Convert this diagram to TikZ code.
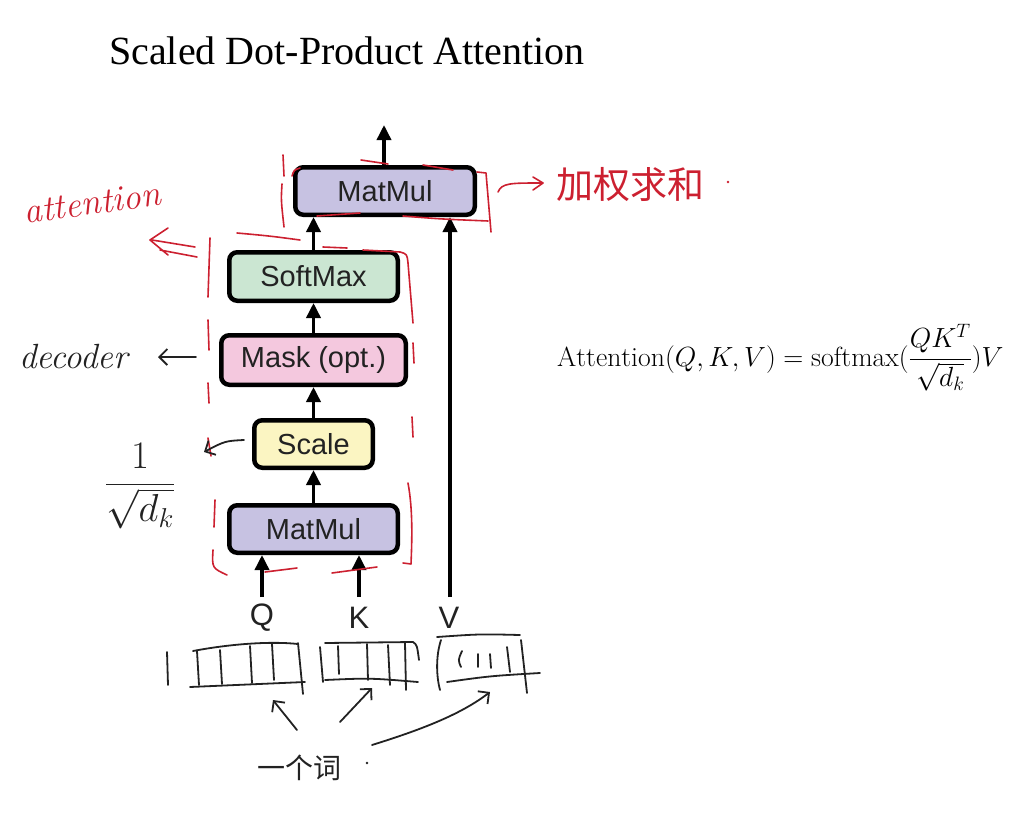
\RequirePackage{fix-cm}
\documentclass[tikz,border=0pt]{standalone}
\usepackage{fontspec}
\usepackage{amsmath}
\newfontfamily\timesf{Liberation Serif}
\newfontfamily\helv{Liberation Sans}
\newfontfamily\cjk{Noto Sans CJK SC}
\usetikzlibrary{arrows.meta}
\definecolor{hred}{HTML}{CC2030}
\definecolor{cmat}{HTML}{C7C2E2}
\definecolor{csoft}{HTML}{CBE6D2}
\definecolor{cmask}{HTML}{F4C8DE}
\definecolor{cscale}{HTML}{FBF5C2}
\definecolor{ink}{HTML}{222222}
\begin{document}
\begin{tikzpicture}[x=1pt,y=-1pt,
  box/.style={draw=black, line width=4.5pt, rounded corners=8pt, inner sep=0pt,
    font=\helv\fontsize{29}{30}\selectfont, text=ink},
  flow/.style={line width=3.5pt, -{Triangle[length=15pt,width=14pt]}},
  lbl/.style={font=\helv\fontsize{31}{32}\selectfont, text=ink, inner sep=0pt},
  redpen/.style={draw=hred, line width=1.6pt, line cap=round, line join=round},
  pen/.style={draw=ink, line width=1.8pt, line cap=round, line join=round},
  barb/.style={-{Straight Barb[length=8pt,width=16pt,line width=1.8pt]}},
]
\useasboundingbox (0,0) rectangle (1014,840);

% title
\node[anchor=base west, inner sep=0pt, font=\timesf\fontsize{40}{44}\selectfont] (title) at (109,65) {Scaled Dot-Product Attention};

% boxes
\node[box, fill=cmat,   minimum width=179.5pt, minimum height=47.5pt] (mm2)   at (385,191)   {MatMul};
\node[box, fill=csoft,  minimum width=168.5pt, minimum height=48.5pt] (sm)    at (313.5,276.5) {SoftMax};
\node[box, fill=cmask,  minimum width=184.5pt, minimum height=49.5pt] (mask)  at (313.5,360) {Mask (opt.)};
\node[box, fill=cscale, minimum width=118.5pt, minimum height=47.5pt] (scale) at (313.5,444) {Scale};
\node[box, fill=cmat,   minimum width=168.5pt, minimum height=47.5pt] (mm1)   at (313.5,529) {MatMul};

% labels
\node[lbl] (q) at (262,618) {Q};
\node[lbl] (k) at (359,618) {K};
\node[lbl] (v) at (449,618) {V};
\coordinate (qa) at (262,597);
\coordinate (ka) at (359,597);
\coordinate (va) at (450,597);
\coordinate (out) at (384,125);

% arrows
\draw[flow] (mm1.north) -- (scale.south);
\draw[flow] (scale.north) -- (mask.south);
\draw[flow] (mask.north) -- (sm.south);
\draw[flow] (sm.north) -- (sm.north |- mm2.south);
\draw[flow] (out |- mm2.north) -- (out);
\draw[flow] (qa) -- (qa |- mm1.south);
\draw[flow] (ka) -- (ka |- mm1.south);
\draw[flow] (va) -- (va |- mm2.south);

% formula
\node[anchor=base west, inner sep=0pt, font=\fontsize{27.7}{33}\selectfont] (eq) at (557,366)
  {$\mathrm{Attention}(Q,K,V)=\mathrm{softmax}(\dfrac{QK^T}{\sqrt{d_k}})V$};

% ---- red annotations ----
\node[rotate=8, text=hred, inner sep=0pt, font=\itshape\fontsize{36}{38}\selectfont] (att) at (92,203) {attention};
% double arrow
\draw[redpen] (195,247) -- (152,240);
\draw[redpen] (197,257) -- (160,250);
\draw[redpen] (168,228) -- (150,240) -- (168,255);
% top matmul frame
\draw[redpen] (283,155) -- (284,176);
\draw[redpen] (282,184) .. controls (281,200) .. (284,227);
\draw[redpen] (292,176) .. controls (294,170) .. (300,168);
\draw[redpen] (361,160) -- (388,164);
\draw[redpen] (423,165) -- (453,170);
\draw[redpen] (317,216) -- (360,213);
\draw[redpen] (403,216) .. controls (440,219) .. (488,221);
\draw[redpen] (477,172) -- (486,173) -- (491,232);
% arrow to weighted sum
\draw[redpen] (498,192) .. controls (502,183) and (510,183) .. (542,183);
\draw[redpen] (533,177) -- (543,183) -- (533,190);
\node[text=hred, inner sep=0pt, font=\cjk\fontsize{37}{39}\selectfont] (jq) at (630,185) {加权求和};
\fill[hred] (728,182) circle (1.4pt);
% inner group frame
\draw[redpen] (237,233) .. controls (270,236) .. (300,240);
\draw[redpen] (323,247) -- (347,248);
\draw[redpen] (363,250) -- (400,252) .. controls (407,254) .. (408,263) -- (413,323);
\draw[redpen] (210,238) -- (208,297);
\draw[redpen] (208,320) -- (209,350);
\draw[redpen] (208,383) -- (209,403);
\draw[redpen] (208,438) -- (211,456);
\draw[redpen] (413,343) -- (414,363);
\draw[redpen] (412,417) -- (413,437);
\draw[redpen] (408,483) .. controls (413,510) and (412,540) .. (411,564) -- (403,563);
\draw[redpen] (215,500) -- (214,527);
\draw[redpen] (213,550) .. controls (212,568) .. (227,575);
\draw[redpen] (265,572) -- (297,568);
\draw[redpen] (332,573) -- (377,567);

% ---- black annotations ----
\node[anchor=base west, inner sep=0pt, text=ink, font=\itshape\fontsize{35}{37}\selectfont] (dec) at (19,368) {decoder};
\draw[pen, barb] (196,357) -- (158,357);
\draw[pen, barb] (244,440) .. controls (225,441) .. (204,452);
\node[inner sep=0pt, text=ink, font=\fontsize{39}{44}\selectfont] (frac) at (140,486) {$\dfrac{1}{\sqrt{d_k}}$};

% vectors
\draw[pen] (167,652) -- (168,685);
\draw[pen] (193,651) .. controls (230,644) and (270,641) .. (298,644);
\draw[pen] (190,687) -- (305,682);
\draw[pen] (197,651) -- (199,685);
\draw[pen] (220,650) -- (222,684);
\draw[pen] (250,646) -- (252,683);
\draw[pen] (272,644) -- (274,680);
\draw[pen] (298,643) -- (303,694);

\draw[pen] (325,643) -- (413,642) .. controls (417,645) .. (419,660);
\draw[pen] (320,647) -- (323,682);
\draw[pen] (325,680) .. controls (370,678) .. (418,682);
\draw[pen] (338,646) -- (339,674);
\draw[pen] (367,644) -- (368,680);
\draw[pen] (388,645) -- (390,685);
\draw[pen] (405,643) -- (406,690);

\draw[pen] (441,640) .. controls (436,655) and (436,675) .. (440,690);
\draw[pen] (437,637) .. controls (480,634) .. (520,635);
\draw[pen] (447,682) .. controls (490,676) .. (540,673);
\draw[pen] (462,651) .. controls (458,660) .. (461,667);
\draw[pen] (478,654) -- (478,667);
\draw[pen] (490,654) -- (491,668);
\draw[pen] (507,647) -- (510,672);
\draw[pen] (521,640) -- (527,693);

% word label and arrows
\node[inner sep=0pt, text=ink, font=\cjk\fontsize{28}{30}\selectfont] (w) at (299,768) {一个词};
\fill[ink] (367,763) circle (1.4pt);
\coordinate (a1s) at (297,730);
\coordinate (a1e) at (273,700);
\coordinate (a2s) at (340,722);
\coordinate (a2e) at (372,688);
\coordinate (a3s) at (372,745);
\coordinate (a3e) at (490,692);
\draw[pen, barb] (a1s) .. controls (285,716) .. (a1e);
\draw[pen, barb] (a2s) -- (a2e);
\draw[pen, barb] (a3s) .. controls (420,730) and (460,715) .. (a3e);
\end{tikzpicture}
\end{document}
